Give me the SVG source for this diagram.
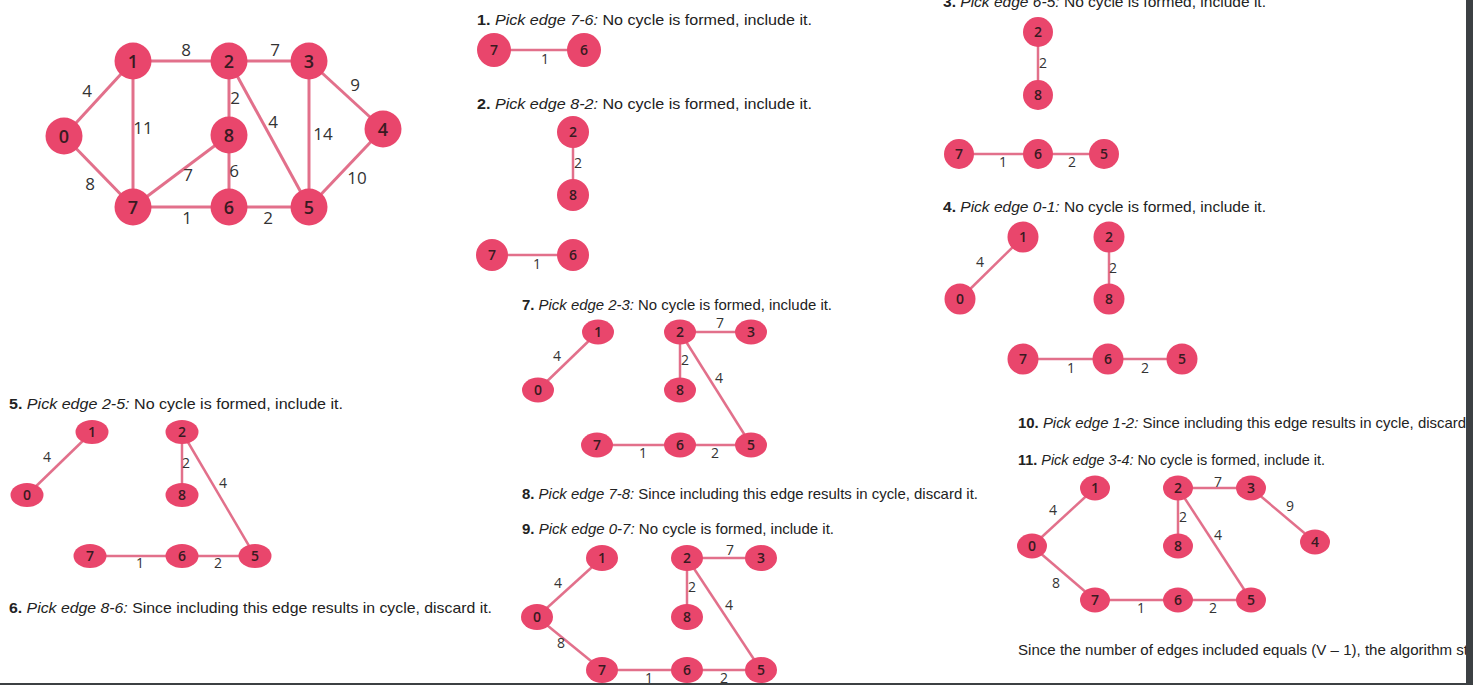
<svg xmlns="http://www.w3.org/2000/svg" width="1473" height="685" viewBox="0 0 1473 685">
<style>
.bg{fill:#ffffff}
.n{fill:#e9466c}
.nt{font-family:"Open Sans","Liberation Sans",sans-serif;font-weight:600;font-size:14px;fill:#3a1a22;text-anchor:middle}
.mt{font-size:18px}
.e{stroke:#e2708b;stroke-width:2.5;fill:none}
.me{stroke-width:3}
.el{font-family:"Open Sans","Liberation Sans",sans-serif;font-size:14px;fill:#333333;text-anchor:middle}
.ml{font-size:17px}
.t{font-family:"Liberation Sans",Arial,sans-serif;font-size:15px;fill:#222222}
.b{font-weight:bold}
.i{font-style:italic}
.bar{fill:#3c4043}
</style>
<rect class="bg" x="0" y="0" width="1473" height="685"/>

<g id="texts">
<text class="t" x="943" y="7" textLength="323" lengthAdjust="spacingAndGlyphs"><tspan class="b">3.</tspan> <tspan class="i">Pick edge 6-5:</tspan> No cycle is formed, include it.</text>
<text class="t" x="477" y="25" textLength="335" lengthAdjust="spacingAndGlyphs"><tspan class="b">1.</tspan> <tspan class="i">Pick edge 7-6:</tspan> No cycle is formed, include it.</text>
<text class="t" x="477" y="109" textLength="335" lengthAdjust="spacingAndGlyphs"><tspan class="b">2.</tspan> <tspan class="i">Pick edge 8-2:</tspan> No cycle is formed, include it.</text>
<text class="t" x="943" y="212" textLength="323" lengthAdjust="spacingAndGlyphs"><tspan class="b">4.</tspan> <tspan class="i">Pick edge 0-1:</tspan> No cycle is formed, include it.</text>
<text class="t" x="522" y="310" textLength="310" lengthAdjust="spacingAndGlyphs"><tspan class="b">7.</tspan> <tspan class="i">Pick edge 2-3:</tspan> No cycle is formed, include it.</text>
<text class="t" x="9" y="409" textLength="334" lengthAdjust="spacingAndGlyphs"><tspan class="b">5.</tspan> <tspan class="i">Pick edge 2-5:</tspan> No cycle is formed, include it.</text>
<text class="t" x="9" y="613" textLength="483" lengthAdjust="spacingAndGlyphs"><tspan class="b">6.</tspan> <tspan class="i">Pick edge 8-6:</tspan> Since including this edge results in cycle, discard it.</text>
<text class="t" x="522" y="499" textLength="456" lengthAdjust="spacingAndGlyphs"><tspan class="b">8.</tspan> <tspan class="i">Pick edge 7-8:</tspan> Since including this edge results in cycle, discard it.</text>
<text class="t" x="522" y="534" textLength="312" lengthAdjust="spacingAndGlyphs"><tspan class="b">9.</tspan> <tspan class="i">Pick edge 0-7:</tspan> No cycle is formed, include it.</text>
<text class="t" x="1018" y="428" textLength="448" lengthAdjust="spacingAndGlyphs"><tspan class="b">10.</tspan> <tspan class="i">Pick edge 1-2:</tspan> Since including this edge results in cycle, discard</text>
<text class="t" x="1018" y="465" textLength="307" lengthAdjust="spacingAndGlyphs"><tspan class="b">11.</tspan> <tspan class="i">Pick edge 3-4:</tspan> No cycle is formed, include it.</text>
<text class="t" x="1018" y="655" textLength="450" lengthAdjust="spacingAndGlyphs">Since the number of edges included equals (V – 1), the algorithm st</text>
</g>

<g id="connectors">
<g id="main-edges">
<line class="e me" x1="64" y1="136" x2="133" y2="61"/>
<line class="e me" x1="64" y1="136" x2="133" y2="207"/>
<line class="e me" x1="133" y1="61" x2="229" y2="61"/>
<line class="e me" x1="133" y1="61" x2="133" y2="207"/>
<line class="e me" x1="229" y1="61" x2="309" y2="61"/>
<line class="e me" x1="229" y1="61" x2="229" y2="135"/>
<line class="e me" x1="229" y1="61" x2="309" y2="207"/>
<line class="e me" x1="309" y1="61" x2="383" y2="129"/>
<line class="e me" x1="309" y1="61" x2="309" y2="207"/>
<line class="e me" x1="383" y1="129" x2="309" y2="207"/>
<line class="e me" x1="133" y1="207" x2="229" y2="135"/>
<line class="e me" x1="229" y1="135" x2="229" y2="207"/>
<line class="e me" x1="133" y1="207" x2="229" y2="207"/>
<line class="e me" x1="229" y1="207" x2="309" y2="207"/>
<text class="el ml" x="186" y="56">8</text>
<text class="el ml" x="275" y="56">7</text>
<text class="el ml" x="87" y="97">4</text>
<text class="el ml" x="143" y="134">11</text>
<text class="el ml" x="235" y="104">2</text>
<text class="el ml" x="273" y="128">4</text>
<text class="el ml" x="323" y="140">14</text>
<text class="el ml" x="355" y="91">9</text>
<text class="el ml" x="357" y="184">10</text>
<text class="el ml" x="90" y="190">8</text>
<text class="el ml" x="188" y="181">7</text>
<text class="el ml" x="234" y="177">6</text>
<text class="el ml" x="187" y="224">1</text>
<text class="el ml" x="268" y="224">2</text>
</g>
<g id="s1-edges">
<line class="e" x1="494" y1="50" x2="584" y2="50"/>
<text class="el" x="545" y="64">1</text>
</g>
<g id="s2-edges">
<line class="e" x1="573" y1="132" x2="573" y2="195"/>
<line class="e" x1="492" y1="255" x2="573" y2="255"/>
<text class="el" x="578" y="168">2</text>
<text class="el" x="537" y="269">1</text>
</g>
<g id="s3-edges">
<line class="e" x1="1038" y1="32" x2="1038" y2="95"/>
<line class="e" x1="959" y1="154" x2="1104" y2="154"/>
<text class="el" x="1043" y="68">2</text>
<text class="el" x="1003" y="167">1</text>
<text class="el" x="1072" y="167">2</text>
</g>
<g id="s4-edges">
<line class="e" x1="960" y1="299" x2="1023" y2="237"/>
<line class="e" x1="1109" y1="237" x2="1109" y2="299"/>
<line class="e" x1="1023" y1="359" x2="1182" y2="359"/>
<text class="el" x="980" y="267">4</text>
<text class="el" x="1113" y="273">2</text>
<text class="el" x="1071" y="373">1</text>
<text class="el" x="1145" y="373">2</text>
</g>
<g id="s7-edges">
<line class="e" x1="538" y1="390" x2="598" y2="332"/>
<line class="e" x1="680" y1="332" x2="751" y2="332"/>
<line class="e" x1="680" y1="332" x2="680" y2="390"/>
<line class="e" x1="680" y1="332" x2="751" y2="445"/>
<line class="e" x1="597" y1="445" x2="751" y2="445"/>
<text class="el" x="557" y="361">4</text>
<text class="el" x="720" y="328">7</text>
<text class="el" x="685" y="365">2</text>
<text class="el" x="719" y="383">4</text>
<text class="el" x="643" y="458">1</text>
<text class="el" x="715" y="458">2</text>
</g>
<g id="s5-edges">
<line class="e" x1="27" y1="495" x2="92" y2="432"/>
<line class="e" x1="182" y1="432" x2="182" y2="495"/>
<line class="e" x1="182" y1="432" x2="255" y2="556"/>
<line class="e" x1="90" y1="556" x2="255" y2="556"/>
<text class="el" x="47" y="462">4</text>
<text class="el" x="186" y="468">2</text>
<text class="el" x="223" y="488">4</text>
<text class="el" x="140" y="568">1</text>
<text class="el" x="218" y="568">2</text>
</g>
<g id="s9-edges">
<line class="e" x1="537" y1="617" x2="602" y2="558"/>
<line class="e" x1="537" y1="617" x2="602" y2="670"/>
<line class="e" x1="687" y1="558" x2="761" y2="558"/>
<line class="e" x1="687" y1="558" x2="687" y2="617"/>
<line class="e" x1="687" y1="558" x2="761" y2="670"/>
<line class="e" x1="602" y1="670" x2="761" y2="670"/>
<text class="el" x="558" y="588">4</text>
<text class="el" x="730" y="555">7</text>
<text class="el" x="692" y="592">2</text>
<text class="el" x="729" y="610">4</text>
<text class="el" x="561" y="648">8</text>
<text class="el" x="649" y="683">1</text>
<text class="el" x="724" y="683">2</text>
</g>
<g id="s11-edges">
<line class="e" x1="1032" y1="546" x2="1095" y2="488"/>
<line class="e" x1="1032" y1="546" x2="1095" y2="600"/>
<line class="e" x1="1178" y1="488" x2="1251" y2="488"/>
<line class="e" x1="1178" y1="488" x2="1178" y2="546"/>
<line class="e" x1="1178" y1="488" x2="1251" y2="600"/>
<line class="e" x1="1251" y1="488" x2="1315" y2="542"/>
<line class="e" x1="1095" y1="600" x2="1251" y2="600"/>
<text class="el" x="1053" y="515">4</text>
<text class="el" x="1218" y="487">7</text>
<text class="el" x="1183" y="522">2</text>
<text class="el" x="1218" y="540">4</text>
<text class="el" x="1290" y="511">9</text>
<text class="el" x="1056" y="588">8</text>
<text class="el" x="1141" y="613">1</text>
<text class="el" x="1213" y="613">2</text>
</g>
</g>

<g id="main-nodes">
<g id="m0"><circle class="n" cx="64" cy="136" r="18.5"/><text class="nt mt" x="64" y="142.5">0</text></g>
<g id="m1"><circle class="n" cx="133" cy="61" r="18.5"/><text class="nt mt" x="133" y="67.5">1</text></g>
<g id="m2"><circle class="n" cx="229" cy="61" r="18.5"/><text class="nt mt" x="229" y="67.5">2</text></g>
<g id="m3"><circle class="n" cx="309" cy="61" r="18.5"/><text class="nt mt" x="309" y="67.5">3</text></g>
<g id="m4"><circle class="n" cx="383" cy="129" r="18.5"/><text class="nt mt" x="383" y="135.5">4</text></g>
<g id="m5"><circle class="n" cx="309" cy="207" r="18.5"/><text class="nt mt" x="309" y="213.5">5</text></g>
<g id="m6"><circle class="n" cx="229" cy="207" r="18.5"/><text class="nt mt" x="229" y="213.5">6</text></g>
<g id="m7"><circle class="n" cx="133" cy="207" r="18.5"/><text class="nt mt" x="133" y="213.5">7</text></g>
<g id="m8"><circle class="n" cx="229" cy="135" r="18.5"/><text class="nt mt" x="229" y="141.5">8</text></g>
</g>

<g id="s1-nodes">
<g id="s1n7"><circle class="n" cx="494" cy="50" r="17"/><text class="nt" x="494" y="55">7</text></g>
<g id="s1n6"><circle class="n" cx="584" cy="50" r="17"/><text class="nt" x="584" y="55">6</text></g>
</g>
<g id="s2-nodes">
<g id="s2n2"><circle class="n" cx="573" cy="132" r="16"/><text class="nt" x="573" y="137">2</text></g>
<g id="s2n8"><circle class="n" cx="573" cy="195" r="16"/><text class="nt" x="573" y="200">8</text></g>
<g id="s2n7"><circle class="n" cx="492" cy="255" r="16"/><text class="nt" x="492" y="260">7</text></g>
<g id="s2n6"><circle class="n" cx="573" cy="255" r="16"/><text class="nt" x="573" y="260">6</text></g>
</g>
<g id="s3-nodes">
<g id="s3n2"><circle class="n" cx="1038" cy="32" r="15"/><text class="nt" x="1038" y="37">2</text></g>
<g id="s3n8"><circle class="n" cx="1038" cy="95" r="15"/><text class="nt" x="1038" y="100">8</text></g>
<g id="s3n7"><circle class="n" cx="959" cy="154" r="15"/><text class="nt" x="959" y="159">7</text></g>
<g id="s3n6"><circle class="n" cx="1038" cy="154" r="15"/><text class="nt" x="1038" y="159">6</text></g>
<g id="s3n5"><circle class="n" cx="1104" cy="154" r="15"/><text class="nt" x="1104" y="159">5</text></g>
</g>
<g id="s4-nodes">
<g id="s4n1"><circle class="n" cx="1023" cy="237" r="15.5"/><text class="nt" x="1023" y="242">1</text></g>
<g id="s4n2"><circle class="n" cx="1109" cy="237" r="15.5"/><text class="nt" x="1109" y="242">2</text></g>
<g id="s4n0"><circle class="n" cx="960" cy="299" r="15.5"/><text class="nt" x="960" y="304">0</text></g>
<g id="s4n8"><circle class="n" cx="1109" cy="299" r="15.5"/><text class="nt" x="1109" y="304">8</text></g>
<g id="s4n7"><circle class="n" cx="1023" cy="359" r="15.5"/><text class="nt" x="1023" y="364">7</text></g>
<g id="s4n6"><circle class="n" cx="1108" cy="359" r="15.5"/><text class="nt" x="1108" y="364">6</text></g>
<g id="s4n5"><circle class="n" cx="1182" cy="359" r="15.5"/><text class="nt" x="1182" y="364">5</text></g>
</g>
<g id="s7-nodes">
<g id="s7n1"><ellipse class="n" cx="598" cy="332" rx="16" ry="12.5"/><text class="nt" x="598" y="337">1</text></g>
<g id="s7n2"><ellipse class="n" cx="680" cy="332" rx="16" ry="12.5"/><text class="nt" x="680" y="337">2</text></g>
<g id="s7n3"><ellipse class="n" cx="751" cy="332" rx="16" ry="12.5"/><text class="nt" x="751" y="337">3</text></g>
<g id="s7n0"><ellipse class="n" cx="538" cy="390" rx="16" ry="12.5"/><text class="nt" x="538" y="395">0</text></g>
<g id="s7n8"><ellipse class="n" cx="680" cy="390" rx="16" ry="12.5"/><text class="nt" x="680" y="395">8</text></g>
<g id="s7n7"><ellipse class="n" cx="597" cy="445" rx="16" ry="12.5"/><text class="nt" x="597" y="450">7</text></g>
<g id="s7n6"><ellipse class="n" cx="680" cy="445" rx="16" ry="12.5"/><text class="nt" x="680" y="450">6</text></g>
<g id="s7n5"><ellipse class="n" cx="751" cy="445" rx="16" ry="12.5"/><text class="nt" x="751" y="450">5</text></g>
</g>
<g id="s5-nodes">
<g id="s5n1"><ellipse class="n" cx="92" cy="432" rx="16.5" ry="12"/><text class="nt" x="92" y="437">1</text></g>
<g id="s5n2"><ellipse class="n" cx="182" cy="432" rx="16.5" ry="12"/><text class="nt" x="182" y="437">2</text></g>
<g id="s5n0"><ellipse class="n" cx="27" cy="495" rx="16.5" ry="12"/><text class="nt" x="27" y="500">0</text></g>
<g id="s5n8"><ellipse class="n" cx="182" cy="495" rx="16.5" ry="12"/><text class="nt" x="182" y="500">8</text></g>
<g id="s5n7"><ellipse class="n" cx="90" cy="556" rx="16.5" ry="12"/><text class="nt" x="90" y="561">7</text></g>
<g id="s5n6"><ellipse class="n" cx="182" cy="556" rx="16.5" ry="12"/><text class="nt" x="182" y="561">6</text></g>
<g id="s5n5"><ellipse class="n" cx="255" cy="556" rx="16.5" ry="12"/><text class="nt" x="255" y="561">5</text></g>
</g>
<g id="s9-nodes">
<g id="s9n1"><ellipse class="n" cx="602" cy="558" rx="16" ry="13"/><text class="nt" x="602" y="563">1</text></g>
<g id="s9n2"><ellipse class="n" cx="687" cy="558" rx="16" ry="13"/><text class="nt" x="687" y="563">2</text></g>
<g id="s9n3"><ellipse class="n" cx="761" cy="558" rx="16" ry="13"/><text class="nt" x="761" y="563">3</text></g>
<g id="s9n0"><ellipse class="n" cx="537" cy="617" rx="16" ry="13"/><text class="nt" x="537" y="622">0</text></g>
<g id="s9n8"><ellipse class="n" cx="687" cy="617" rx="16" ry="13"/><text class="nt" x="687" y="622">8</text></g>
<g id="s9n7"><ellipse class="n" cx="602" cy="670" rx="16" ry="13"/><text class="nt" x="602" y="675">7</text></g>
<g id="s9n6"><ellipse class="n" cx="687" cy="670" rx="16" ry="13"/><text class="nt" x="687" y="675">6</text></g>
<g id="s9n5"><ellipse class="n" cx="761" cy="670" rx="16" ry="13"/><text class="nt" x="761" y="675">5</text></g>
</g>
<g id="s11-nodes">
<g id="s11n1"><ellipse class="n" cx="1095" cy="488" rx="15" ry="12.5"/><text class="nt" x="1095" y="493">1</text></g>
<g id="s11n2"><ellipse class="n" cx="1178" cy="488" rx="15" ry="12.5"/><text class="nt" x="1178" y="493">2</text></g>
<g id="s11n3"><ellipse class="n" cx="1251" cy="488" rx="15" ry="12.5"/><text class="nt" x="1251" y="493">3</text></g>
<g id="s11n0"><ellipse class="n" cx="1032" cy="546" rx="15" ry="12.5"/><text class="nt" x="1032" y="551">0</text></g>
<g id="s11n8"><ellipse class="n" cx="1178" cy="546" rx="15" ry="12.5"/><text class="nt" x="1178" y="551">8</text></g>
<g id="s11n4"><ellipse class="n" cx="1315" cy="542" rx="15" ry="12.5"/><text class="nt" x="1315" y="547">4</text></g>
<g id="s11n7"><ellipse class="n" cx="1095" cy="600" rx="15" ry="12.5"/><text class="nt" x="1095" y="605">7</text></g>
<g id="s11n6"><ellipse class="n" cx="1178" cy="600" rx="15" ry="12.5"/><text class="nt" x="1178" y="605">6</text></g>
<g id="s11n5"><ellipse class="n" cx="1251" cy="600" rx="15" ry="12.5"/><text class="nt" x="1251" y="605">5</text></g>
</g>

<rect class="bar" x="1466" y="0" width="7" height="685"/>
<rect class="bar" x="0" y="683" width="1473" height="2"/>
</svg>
